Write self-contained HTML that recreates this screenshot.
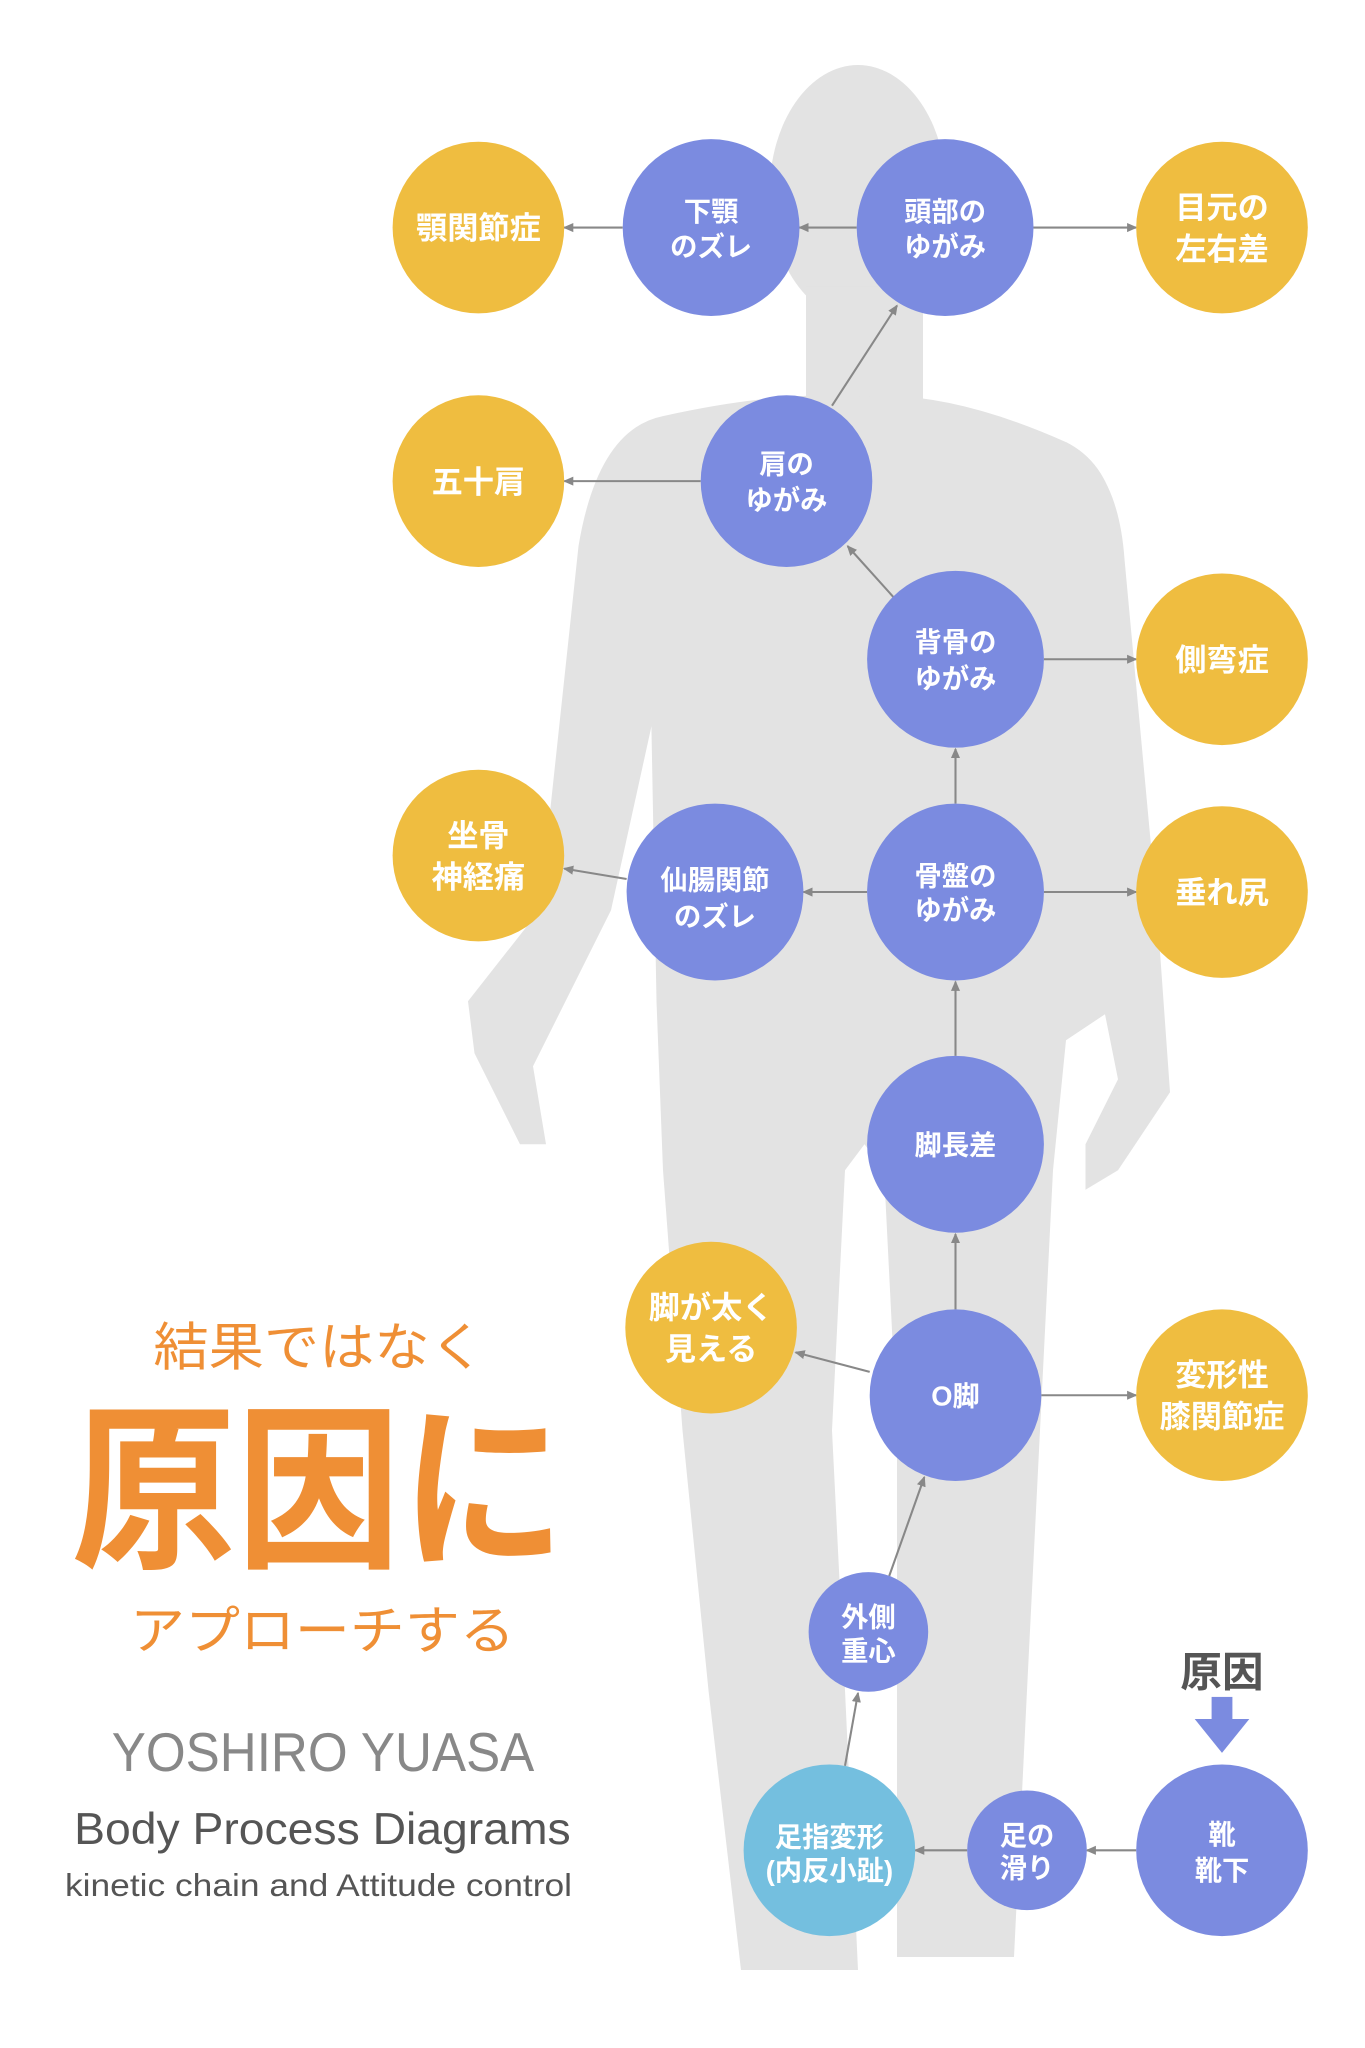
<!DOCTYPE html>
<html><head><meta charset="utf-8"><style>html,body{margin:0;padding:0;background:#fff}svg{display:block}
text{font-family:"Liberation Sans","Noto Sans CJK JP",sans-serif}</style></head><body>
<svg width="1365" height="2048" viewBox="0 0 1050 1575" preserveAspectRatio="none" xmlns="http://www.w3.org/2000/svg">
<defs><marker id="a" markerWidth="8" markerHeight="8" refX="7" refY="4" orient="auto" markerUnits="userSpaceOnUse"><path d="M0,0.5 L8,4 L0,7.5 Z" fill="#888"/></marker></defs>
<g fill="#e3e3e3">
<ellipse cx="660" cy="148" rx="68" ry="98"/>
<rect x="620" y="220" width="90" height="100"/>
<path d="M510 320 Q600 300 665 305 Q730 300 820 340 Q860 360 860 420 L850 780 L820 800 L810 900 L800 1100 L790 1300 L780 1505 L690 1505 L690 1100 L680 900 L665 880 L650 900 L640 1100 L650 1300 L660 1515 L570 1515 L545 1300 L525 1100 L510 900 L505 770 L500 500 Q490 340 510 320 Z"/>
<path d="M510 320 Q460 330 445 420 L415 700 L360 770 L365 810 L400 880 L420 880 L410 820 L430 780 L470 700 L525 450 Z"/>
<path d="M820 340 Q860 360 865 430 L890 700 L900 840 L860 900 L835 915 L835 880 L860 830 L850 780 L830 600 L800 450 Z"/>
</g>
<g stroke="#888" stroke-width="1.6" marker-end="url(#a)">
<line x1="659" y1="175" x2="615" y2="175"/>
<line x1="479" y1="175" x2="434" y2="175"/>
<line x1="795" y1="175" x2="874" y2="175"/>
<line x1="640" y1="312" x2="690" y2="235"/>
<line x1="539" y1="370" x2="434" y2="370"/>
<line x1="688" y1="460" x2="652" y2="420"/>
<line x1="803" y1="507" x2="874" y2="507"/>
<line x1="735" y1="618" x2="735" y2="576"/>
<line x1="667" y1="686" x2="618" y2="686"/>
<line x1="482" y1="676" x2="434" y2="668"/>
<line x1="803" y1="686" x2="874" y2="686"/>
<line x1="735" y1="812" x2="735" y2="755"/>
<line x1="735" y1="1007" x2="735" y2="949"/>
<line x1="669" y1="1055" x2="612" y2="1040"/>
<line x1="801" y1="1073" x2="874" y2="1073"/>
<line x1="684" y1="1212" x2="711" y2="1136"/>
<line x1="650" y1="1358" x2="660" y2="1302"/>
<line x1="744" y1="1423" x2="704" y2="1423"/>
<line x1="874" y1="1423" x2="836" y2="1423"/>
</g>
<g fill="#efbd40">
<circle cx="368" cy="175" r="66"/><circle cx="940" cy="175" r="66"/>
<circle cx="368" cy="370" r="66"/><circle cx="940" cy="507" r="66"/>
<circle cx="368" cy="658" r="66"/><circle cx="940" cy="686" r="66"/>
<circle cx="547" cy="1021" r="66"/><circle cx="940" cy="1073" r="66"/>
</g>
<g fill="#7b8be0">
<circle cx="547" cy="175" r="68"/><circle cx="727" cy="175" r="68"/>
<circle cx="605" cy="370" r="66"/><circle cx="735" cy="507" r="68"/>
<circle cx="550" cy="686" r="68"/><circle cx="735" cy="686" r="68"/>
<circle cx="735" cy="880" r="68"/><circle cx="735" cy="1073" r="66"/>
<circle cx="668" cy="1255" r="46"/><circle cx="790" cy="1423" r="46"/>
<circle cx="940" cy="1423" r="66"/>
<rect x="932" y="1305" width="16" height="18"/><path d="M919 1322 L961 1322 L940 1348 Z"/>
</g>
<circle cx="638" cy="1423" r="66" fill="#74bfdf"/>
<g fill="#fff" font-weight="bold" text-anchor="middle" font-size="21">
<text x="368" y="184" font-size="24">顎関節症</text>
<text x="940" y="168" font-size="24">目元の</text><text x="940" y="200" font-size="24">左右差</text>
<text x="368" y="379" font-size="24">五十肩</text>
<text x="940" y="516" font-size="24">側弯症</text>
<text x="368" y="651" font-size="24">坐骨</text><text x="368" y="683" font-size="24">神経痛</text>
<text x="940" y="695" font-size="24">垂れ尻</text>
<text x="547" y="1014" font-size="24">脚が太く</text><text x="547" y="1046" font-size="24">見える</text>
<text x="940" y="1066" font-size="24">変形性</text><text x="940" y="1098" font-size="24">膝関節症</text>
<text x="547" y="170">下顎</text><text x="547" y="197">のズレ</text>
<text x="727" y="170">頭部の</text><text x="727" y="197">ゆがみ</text>
<text x="605" y="364">肩の</text><text x="605" y="392">ゆがみ</text>
<text x="735" y="501">背骨の</text><text x="735" y="529">ゆがみ</text>
<text x="550" y="684">仙腸関節</text><text x="550" y="712">のズレ</text>
<text x="735" y="681">骨盤の</text><text x="735" y="707">ゆがみ</text>
<text x="735" y="888">脚長差</text>
<text x="735" y="1081">O脚</text>
<text x="668" y="1251">外側</text><text x="668" y="1277">重心</text>
<text x="790" y="1419">足の</text><text x="790" y="1444">滑り</text>
<text x="940" y="1418">靴</text><text x="940" y="1446">靴下</text>
<text x="638" y="1420">足指変形</text><text x="638" y="1446">(内反小趾)</text>
</g>
<text x="940" y="1297" font-size="32" font-weight="bold" fill="#555" text-anchor="middle">原因</text>
<g>
<text x="118" y="1050" font-size="40" fill="#ef8f35" textLength="255" lengthAdjust="spacingAndGlyphs">結果ではなく</text>
<text x="55" y="1195" font-size="138" font-weight="600" fill="#ef8f35" textLength="380" lengthAdjust="spacingAndGlyphs">原因に</text>
<text x="100" y="1268" font-size="40" fill="#ef8f35" textLength="296" lengthAdjust="spacingAndGlyphs">アプローチする</text>
<text x="86" y="1362" font-size="42" fill="#888" textLength="325" lengthAdjust="spacingAndGlyphs">YOSHIRO YUASA</text>
<text x="57" y="1418" font-size="34" fill="#555" textLength="382" lengthAdjust="spacingAndGlyphs">Body Process Diagrams</text>
<text x="50" y="1458" font-size="24" fill="#555" textLength="390" lengthAdjust="spacingAndGlyphs">kinetic chain and Attitude control</text>
</g>
</svg>
</body></html>
